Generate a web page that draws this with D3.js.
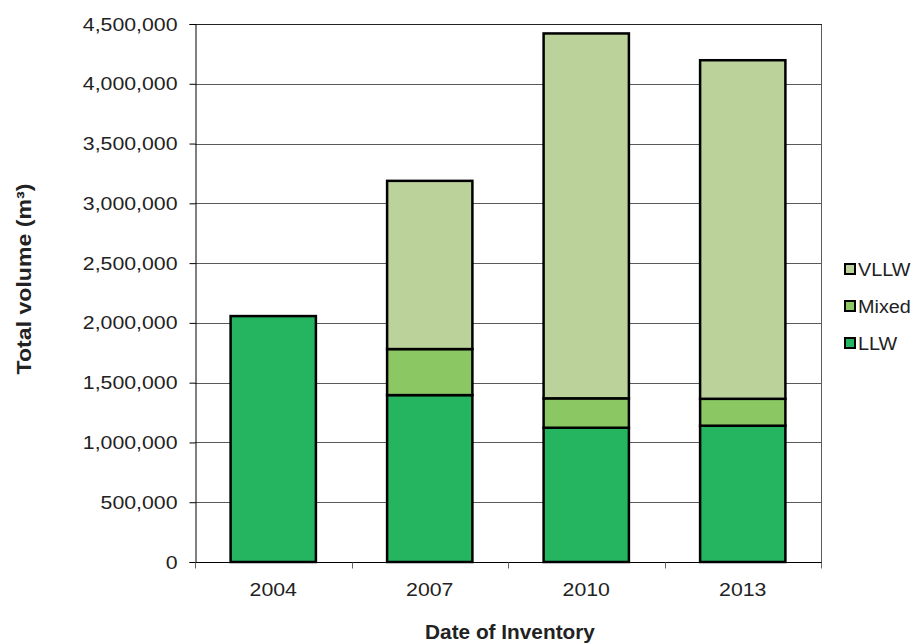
<!DOCTYPE html>
<html>
<head>
<meta charset="utf-8">
<script src="https://cdn.jsdelivr.net/npm/d3@7"></script>
<style>
  body { margin: 0; background: #fff; }
  svg { display: block; font-family: "Liberation Sans", Arial, sans-serif; }
</style>
</head>
<body>
<svg id="chart" width="913" height="643"></svg>
<script>
// Data
const years = ["2004", "2007", "2010", "2013"];
const seriesNames = ["LLW", "Mixed", "VLLW"];
const llw   = [2057000, 1396000, 1123000, 1140000];
const mixed = [0,        385000,  246000,  225000];
const vllw  = [0,       1407000, 3052000, 2832000];
const yTicks = [0, 500000, 1000000, 1500000, 2000000, 2500000, 3000000, 3500000, 4000000, 4500000];
const colors = ["#25b561", "#8bc763", "#bbd39b"];

const svg = d3.select("#chart");
const x0 = 195, x1 = 821, yTop = 24, yBot = 562;

const x = d3.scaleBand().domain(years).range([x0, x1]).paddingInner(0.455).paddingOuter(0.2275);
const y = d3.scaleLinear().domain([0, 4500000]).range([yBot, yTop]);

const table = years.map((yr, i) => ({ year: yr, LLW: llw[i], Mixed: mixed[i], VLLW: vllw[i] }));
const stacked = d3.stack().keys(seriesNames)(table);

// widen glyphs horizontally (reference text is slightly stretched)
function stretch(sel, factor) {
  sel.each(function () {
    const w = this.getComputedTextLength();
    d3.select(this).attr("textLength", w * factor).attr("lengthAdjust", "spacingAndGlyphs");
  });
}

// gridlines
svg.append("g").selectAll("line").data(yTicks.slice(1)).join("line")
  .attr("x1", x0).attr("x2", x1)
  .attr("y1", d => Math.round(y(d)) + 0.5).attr("y2", d => Math.round(y(d)) + 0.5)
  .attr("stroke", "#5a5a5a").attr("stroke-width", 1);

// plot frame (right, top)
svg.append("line").attr("x1", x1 + 0.5).attr("x2", x1 + 0.5).attr("y1", yTop).attr("y2", yBot)
  .attr("stroke", "#5a5a5a");
svg.append("line").attr("x1", x0).attr("x2", x1 + 1).attr("y1", yTop + 0.5).attr("y2", yTop + 0.5)
  .attr("stroke", "#222");

// bars
const fmt = d3.format(",");
svg.append("g").selectAll("g").data(stacked).join("g")
  .attr("fill", (d, i) => colors[i])
  .selectAll("rect").data(d => d.filter(s => s[1] - s[0] > 0)).join("rect")
  .attr("x", d => x(d.data.year))
  .attr("width", x.bandwidth())
  .attr("y", d => y(d[1]))
  .attr("height", d => y(d[0]) - y(d[1]))
  .attr("stroke", "#000").attr("stroke-width", 2.5);

// y axis
const yAxis = d3.axisLeft(y).tickValues(yTicks).tickFormat(fmt).tickSize(6).tickPadding(12);
const gy = svg.append("g").attr("transform", `translate(${x0 + 0.5},0)`).call(yAxis);
gy.select(".domain").attr("stroke", "#000");
gy.selectAll(".tick line").attr("stroke", "#000");
gy.selectAll(".tick text").attr("font-size", 19).attr("fill", "#222")
  .attr("font-family", "Liberation Sans, Arial, sans-serif")
  .call(stretch, 1.12);

// x axis
const gx = svg.append("g").attr("transform", `translate(0,${yBot + 0.5})`);
gx.append("line").attr("x1", x0).attr("x2", x1 + 1).attr("stroke", "#000");
const bounds = [x0, ...years.map(yr => x(yr) + x.bandwidth() + x.step() * x.paddingInner() / 2).slice(0, -1), x1];
gx.selectAll(".bt").data(bounds).join("line").attr("class", "bt")
  .attr("x1", d => Math.round(d) + 0.5).attr("x2", d => Math.round(d) + 0.5)
  .attr("y1", 0).attr("y2", 6).attr("stroke", "#666");
gx.selectAll("text").data(years).join("text")
  .attr("x", d => x(d) + x.bandwidth() / 2).attr("y", 33)
  .attr("text-anchor", "middle").attr("font-size", 19).attr("fill", "#222")
  .text(d => d)
  .call(stretch, 1.12);

// axis titles
svg.append("text").attr("x", 510).attr("y", 639).attr("text-anchor", "middle")
  .attr("font-size", 20).attr("font-weight", "bold").attr("fill", "#222")
  .text("Date of Inventory")
  .call(stretch, 1.04);
svg.append("text").attr("transform", "translate(31,279) rotate(-90)").attr("text-anchor", "middle")
  .attr("font-size", 21).attr("font-weight", "bold").attr("fill", "#222")
  .text("Total volume (m³)")
  .call(stretch, 1.1);

// legend
const legendItems = ["VLLW", "Mixed", "LLW"];
const lg = svg.append("g").selectAll("g").data(legendItems).join("g")
  .attr("transform", (d, i) => `translate(845,${264 + i * 37})`);
lg.append("rect").attr("width", 10).attr("height", 10)
  .attr("fill", d => colors[seriesNames.indexOf(d)]).attr("stroke", "#000").attr("stroke-width", 2);
lg.append("text").attr("x", 13).attr("y", 12).attr("font-size", 18).attr("fill", "#222")
  .text(d => d)
  .call(stretch, 1.1);
</script>
</body>
</html>
